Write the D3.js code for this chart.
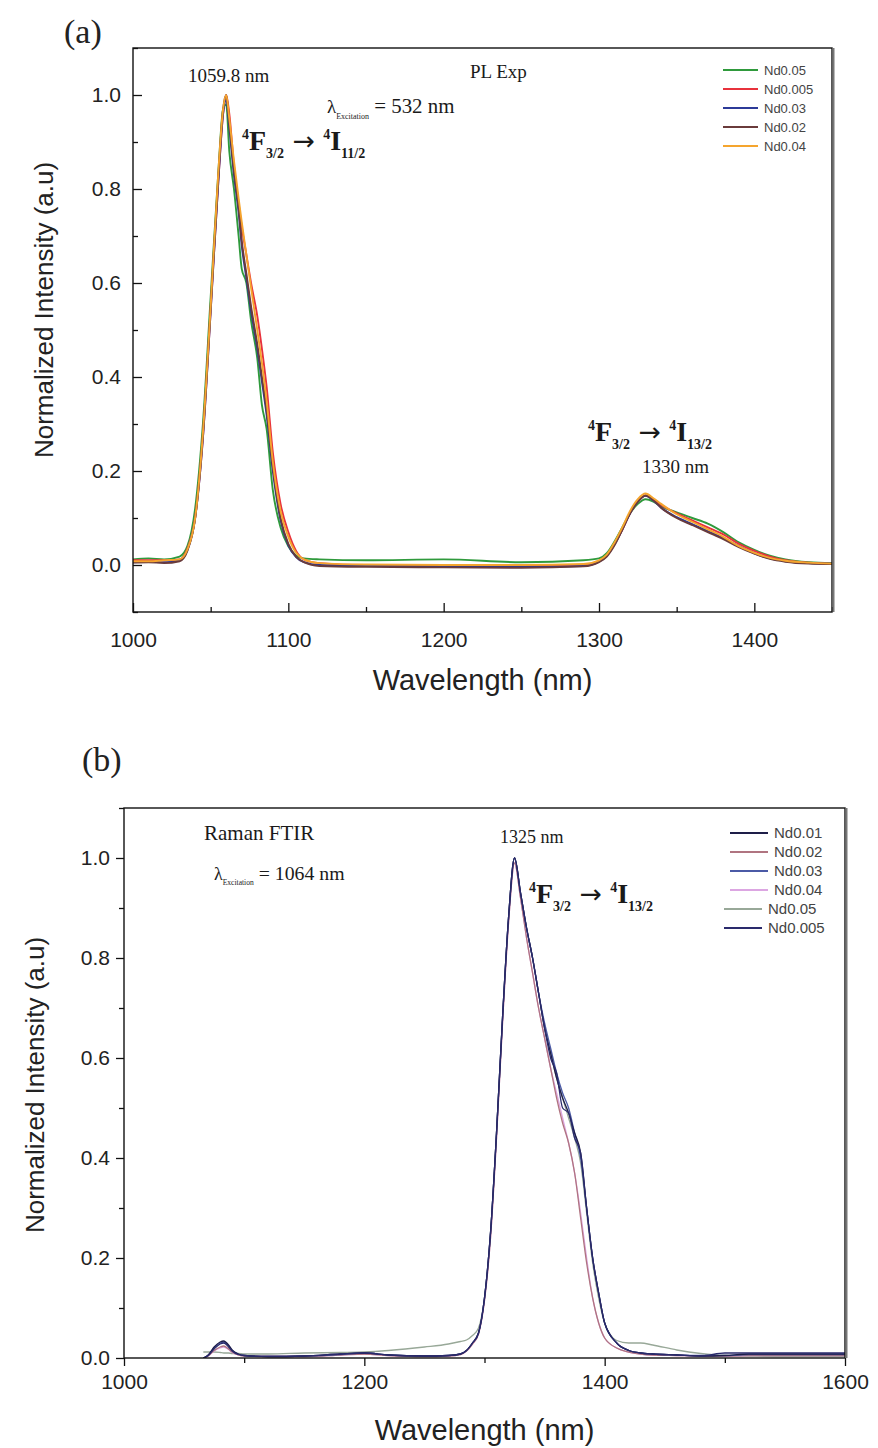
<!DOCTYPE html>
<html>
<head>
<meta charset="utf-8">
<script src="https://cdn.jsdelivr.net/npm/d3@7"></script>
<style>
  body { margin: 0; background: #fff; }
  svg { display: block; }
</style>
</head>
<body>
<div id="chart"></div>
<script>
// ---- panel (a): PL Exp, excitation 532 nm ----
const wlA = [1000,1010,1020,1030,1035,1040,1045,1050,1055,1058,
             1060,1062,1065,1068,1070,1073,1076,1080,1083,1086,
             1090,1095,1100,1105,1110,1120,1150,1200,1250,1290,
             1300,1305,1310,1315,1320,1325,1330,1335,1340,1350,
             1360,1370,1380,1390,1400,1410,1420,1435,1450];
const aNd0_05  = [.012,.014,.012,.018,.04,.12,.3,.57,.84,.97,
                  .98,.88,.8,.7,.63,.6,.52,.44,.34,.29,
                  .16,.08,.04,.02,.014,.012,.01,.012,.006,.01,
                  .014,.025,.05,.08,.11,.13,.14,.135,.125,.112,
                  .1,.088,.07,.048,.032,.02,.012,.006,.004];
const aNd0_005 = [.01,.01,.01,.012,.035,.1,.27,.54,.82,.96,
                  1.0,.96,.85,.77,.72,.66,.6,.53,.46,.38,
                  .24,.13,.07,.03,.012,.004,0,0,-.002,0,
                  .008,.02,.045,.075,.11,.135,.148,.14,.128,.11,
                  .095,.08,.065,.045,.03,.018,.01,.005,.003];
const aNd0_03  = [.006,.007,.006,.01,.032,.1,.27,.54,.82,.96,
                  .99,.93,.83,.75,.68,.61,.54,.46,.39,.32,
                  .2,.095,.042,.017,.006,0,-.002,-.003,-.004,-.002,
                  .007,.02,.044,.076,.11,.135,.147,.137,.122,.102,
                  .087,.072,.057,.04,.025,.014,.008,.004,.003];
const aNd0_02  = [.005,.006,.004,.008,.03,.1,.28,.55,.83,.97,
                  1.0,.94,.84,.76,.69,.62,.55,.47,.4,.33,
                  .21,.1,.045,.018,.006,-.002,-.004,-.005,-.006,-.003,
                  .006,.018,.042,.075,.11,.135,.148,.138,.122,.1,
                  .085,.07,.055,.038,.024,.013,.007,.003,.002];
const aNd0_04  = [.008,.008,.01,.012,.033,.1,.28,.55,.84,.97,
                  1.0,.95,.86,.78,.73,.66,.59,.5,.43,.35,
                  .22,.115,.06,.026,.012,.004,.001,0,0,.002,
                  .01,.022,.048,.08,.115,.14,.152,.142,.13,.108,
                  .092,.076,.06,.04,.026,.015,.009,.005,.003];
const labelsA = ['Nd0.05','Nd0.005','Nd0.03','Nd0.02','Nd0.04'];
const colorsA = ['#2f9a3c','#e8323c','#2c3a98','#6a3b3b','#f5a52e'];
const xTicksA = [1000,1100,1200,1300,1400];
const xMinorA = [1050,1150,1250,1350,1450];
const yTicksA = [0,0.2,0.4,0.6,0.8,1.0];
const yMinorA = [-0.1,0.1,0.3,0.5,0.7,0.9,1.1];

// ---- panel (b): Raman FTIR, excitation 1064 nm ----
const wlB = [1066,1070,1075,1080,1083,1087,1090,1095,1100,1120,
             1150,1180,1200,1220,1250,1270,1280,1285,1290,1295,
             1300,1305,1310,1315,1320,1325,1330,1335,1340,1345,
             1350,1355,1360,1365,1370,1375,1380,1385,1390,1395,
             1400,1410,1420,1430,1440,1460,1480,1500,1520,1550,
             1600];
const bNd0_01  = [0,.006,.022,.032,.034,.026,.016,.008,.005,.003,
                  .004,.008,.01,.006,.004,.005,.008,.015,.03,.05,
                  .12,.25,.45,.68,.88,1.0,.93,.86,.8,.73,
                  .66,.61,.56,.52,.49,.45,.41,.3,.2,.13,
                  .07,.03,.015,.01,.008,.006,.004,.005,.008,.008,
                  .008];
const bNd0_02  = [0,.004,.015,.022,.024,.018,.012,.006,.004,.003,
                  .003,.006,.008,.005,.003,.004,.007,.014,.028,.048,
                  .115,.24,.44,.67,.87,.99,.92,.84,.77,.7,
                  .64,.58,.52,.47,.43,.37,.28,.19,.12,.07,
                  .04,.02,.012,.008,.006,.005,.004,.004,.005,.005,
                  .005];
const bNd0_03  = [0,.005,.02,.03,.032,.024,.015,.008,.005,.003,
                  .004,.007,.01,.006,.004,.005,.008,.015,.03,.05,
                  .12,.25,.45,.68,.88,1.0,.93,.86,.8,.73,
                  .67,.62,.57,.53,.5,.45,.4,.3,.2,.13,
                  .07,.03,.015,.01,.008,.006,.005,.005,.007,.007,
                  .007];
const bNd0_04  = [0,.004,.014,.02,.022,.017,.011,.006,.004,.003,
                  .003,.006,.008,.005,.003,.004,.007,.014,.028,.048,
                  .115,.24,.44,.67,.87,.99,.92,.84,.77,.7,
                  .64,.58,.53,.48,.43,.37,.29,.2,.12,.07,
                  .04,.02,.012,.008,.006,.005,.004,.004,.005,.005,
                  .005];
const bNd0_05  = [.012,.012,.012,.011,.01,.01,.009,.009,.008,.008,
                  .01,.011,.012,.015,.022,.028,.033,.036,.045,.06,
                  .12,.25,.45,.68,.88,1.0,.93,.86,.8,.73,
                  .66,.61,.56,.52,.48,.44,.39,.29,.19,.12,
                  .07,.035,.03,.03,.026,.016,.009,.005,.004,.003,
                  .003];
const bNd0_005 = [0,.005,.018,.028,.03,.022,.014,.007,.005,.003,
                  .004,.008,.01,.006,.004,.005,.008,.015,.03,.05,
                  .12,.25,.45,.68,.88,1.0,.93,.86,.8,.73,
                  .66,.6,.57,.5,.49,.44,.41,.3,.2,.13,
                  .07,.03,.015,.01,.008,.006,.004,.01,.01,.01,
                  .01];
const labelsB = ['Nd0.01','Nd0.02','Nd0.03','Nd0.04','Nd0.05','Nd0.005'];
const colorsB = ['#1e1e48','#b07480','#4b5aa6','#dca6e2','#98a898','#2a2a6c'];
const xTicksB = [1000,1200,1400,1600];
const xMinorB = [1100,1300,1500];
const yTicksB = [0,0.2,0.4,0.6,0.8,1.0];
const yMinorB = [0.1,0.3,0.5,0.7,0.9,1.1];

const W = 878, H = 1448;
const sans = 'Liberation Sans, Arial, sans-serif';
const serif = 'Liberation Serif, Times New Roman, serif';

const svg = d3.select('#chart').append('svg')
  .attr('width', W).attr('height', H);

// text with sub/superscripts, parts = [{t, sub|sup}]
function rich(x, y, parts, size, weight) {
  const t = svg.append('text')
    .attr('x', x).attr('y', y)
    .style('font-family', serif)
    .style('font-size', size + 'px')
    .style('font-weight', weight || 'normal')
    .attr('fill', '#1a1a1a');
  let cur = 0;
  parts.forEach(p => {
    const shift = p.sub ? size * 0.3 : p.sup ? -size * 0.4 : 0;
    const fs = p.sub || p.sup ? size * (p.k || 0.5) : size * (p.k || 1);
    const ts = t.append('tspan')
      .attr('dy', shift - cur)
      .style('font-size', fs + 'px')
      .text(p.t);
    if (p.f) ts.style('font-family', p.f);
    if (p.w) ts.style('font-weight', p.w);
    cur = shift;
  });
  return t;
}

const transition = lvl => [
  {t: '4', sup: true}, {t: 'F'}, {t: '3/2', sub: true},
  {t: ' \u2192 ', k: 0.95, f: 'DejaVu Sans', w: 'normal'},
  {t: '4', sup: true}, {t: 'I'}, {t: lvl, sub: true}
];

function panel(o) {
  const g = svg.append('g');
  const x = d3.scaleLinear().domain(o.xd).range([o.l, o.r]);
  const y = d3.scaleLinear().domain(o.yd).range([o.b, o.t]);
  const tk = o.inward ? -9 : 8, tm = o.inward ? -5 : 5;

  g.append('g').attr('transform', `translate(0,${o.b})`)
    .call(d3.axisBottom(x).tickValues(o.xt).tickSize(tk).tickPadding(o.xpad).tickFormat(d3.format('d')));
  g.append('g').attr('transform', `translate(0,${o.b})`)
    .call(d3.axisBottom(x).tickValues(o.xm).tickSize(tm).tickFormat(''));
  g.append('g').attr('transform', `translate(${o.l},0)`)
    .call(d3.axisLeft(y).tickValues(o.yt).tickSize(tk).tickPadding(o.ypad).tickFormat(d3.format('.1f')));
  g.append('g').attr('transform', `translate(${o.l},0)`)
    .call(d3.axisLeft(y).tickValues(o.ym).tickSize(tm).tickFormat(''));
  g.selectAll('.domain').remove();
  g.selectAll('.tick line').attr('stroke', '#111').attr('stroke-width', 1.3);
  g.selectAll('.tick text').style('font-family', sans).style('font-size', '21px').attr('fill', '#222');

  const clipId = 'clip' + o.id;
  svg.append('clipPath').attr('id', clipId).append('rect')
    .attr('x', o.l).attr('y', o.t).attr('width', o.r - o.l).attr('height', o.b - o.t);

  const line = d3.line().x(d => x(d[0])).y(d => y(d[1])).curve(d3.curveMonotoneX);
  const lines = g.append('g').attr('clip-path', `url(#${clipId})`);
  o.series.forEach((s, i) => {
    lines.append('path')
      .datum(o.wl.map((w, j) => [w, s[j]]))
      .attr('fill', 'none')
      .attr('stroke', o.colors[i])
      .attr('stroke-width', o.lw)
      .attr('stroke-linejoin', 'round')
      .attr('d', line);
  });

  // frame
  g.append('rect').attr('x', o.l).attr('y', o.t)
    .attr('width', o.r - o.l).attr('height', o.b - o.t)
    .attr('fill', 'none').attr('stroke', '#111').attr('stroke-width', 1.4);
  g.append('line').attr('x1', o.r + 1.5).attr('x2', o.r + 1.5)
    .attr('y1', o.t).attr('y2', o.b)
    .attr('stroke', '#777').attr('stroke-width', 2);

  // axis titles
  g.append('text')
    .attr('x', (o.l + o.r) / 2).attr('y', o.xtY)
    .attr('text-anchor', 'middle')
    .style('font-family', sans).style('font-size', '29px').attr('fill', '#222')
    .text('Wavelength (nm)');
  g.append('text')
    .attr('transform', `translate(${o.ytX},${o.ytY}) rotate(-90)`)
    .attr('text-anchor', 'middle')
    .style('font-family', sans).style('font-size', '26px').attr('fill', '#222')
    .text('Normalized Intensity (a.u)');

  // legend
  const lg = g.append('g');
  o.labels.forEach((lab, i) => {
    const yy = o.lgY + i * o.lgStep;
    lg.append('line').attr('x1', o.lgX).attr('x2', o.lgX + o.lgLen)
      .attr('y1', yy).attr('y2', yy)
      .attr('stroke', o.colors[i]).attr('stroke-width', 2);
    lg.append('text').attr('x', o.lgX + o.lgLen + 6).attr('y', yy + 4.5)
      .style('font-family', sans).style('font-size', o.lgFont + 'px').attr('fill', '#444')
      .text(lab);
  });
}

panel({
  id: 'a', l: 133, r: 832, t: 48, b: 612,
  xd: [1000, 1450], yd: [-0.1, 1.1],
  xt: xTicksA, xm: xMinorA, yt: yTicksA, ym: yMinorA,
  inward: true, xpad: 20, ypad: 12,
  wl: wlA, series: [aNd0_05, aNd0_005, aNd0_03, aNd0_02, aNd0_04],
  colors: colorsA, labels: labelsA, lw: 1.9,
  xtY: 690, ytX: 53, ytY: 310,
  lgX: 723, lgY: 70, lgStep: 19, lgLen: 35, lgFont: 13
});

panel({
  id: 'b', l: 124, r: 845, t: 808, b: 1358,
  xd: [1000, 1600], yd: [0, 1.1],
  xt: xTicksB, xm: xMinorB, yt: yTicksB, ym: yMinorB,
  inward: false, xpad: 8, ypad: 6,
  wl: wlB, series: [bNd0_05, bNd0_04, bNd0_02, bNd0_03, bNd0_01, bNd0_005],
  colors: [colorsB[4], colorsB[3], colorsB[1], colorsB[2], colorsB[0], colorsB[5]],
  labels: [], lw: 1.3,
  xtY: 1440, ytX: 44, ytY: 1085,
  lgX: 730, lgY: 833, lgStep: 19, lgLen: 38, lgFont: 15
});

// legend (b) in its own order
labelsB.forEach((lab, i) => {
  const yy = 833 + i * 19;
  const x0 = i < 4 ? 730 : 724;
  svg.append('line').attr('x1', x0).attr('x2', x0 + 38).attr('y1', yy).attr('y2', yy)
    .attr('stroke', colorsB[i]).attr('stroke-width', 2);
  svg.append('text').attr('x', x0 + 44).attr('y', yy + 5)
    .style('font-family', sans).style('font-size', '15px').attr('fill', '#444')
    .text(lab);
});

// panel letters
svg.append('text').attr('x', 64).attr('y', 43)
  .style('font-family', serif).style('font-size', '34px').attr('fill', '#222').text('(a)');
svg.append('text').attr('x', 82).attr('y', 771)
  .style('font-family', serif).style('font-size', '34px').attr('fill', '#222').text('(b)');

// annotations (a)
rich(188, 82, [{t: '1059.8 nm'}], 19);
rich(470, 78, [{t: 'PL Exp'}], 19);
rich(327, 113, [{t: '\u03bb'}, {t: 'Excitation', sub: true, k: 0.42}, {t: ' = 532 nm', k: 1.1}], 19);
rich(242, 150, transition('11/2'), 28, 'bold');
rich(588, 441, transition('13/2'), 28, 'bold');
rich(642, 473, [{t: '1330 nm'}], 19);

// annotations (b)
rich(204, 840, [{t: 'Raman FTIR'}], 21);
rich(214, 880, [{t: '\u03bb'}, {t: 'Excitation', sub: true, k: 0.42}, {t: ' = 1064 nm', k: 1.1}], 18);
rich(500, 843, [{t: '1325 nm'}], 18);
rich(529, 903, transition('13/2'), 28, 'bold');
</script>
</body>
</html>
